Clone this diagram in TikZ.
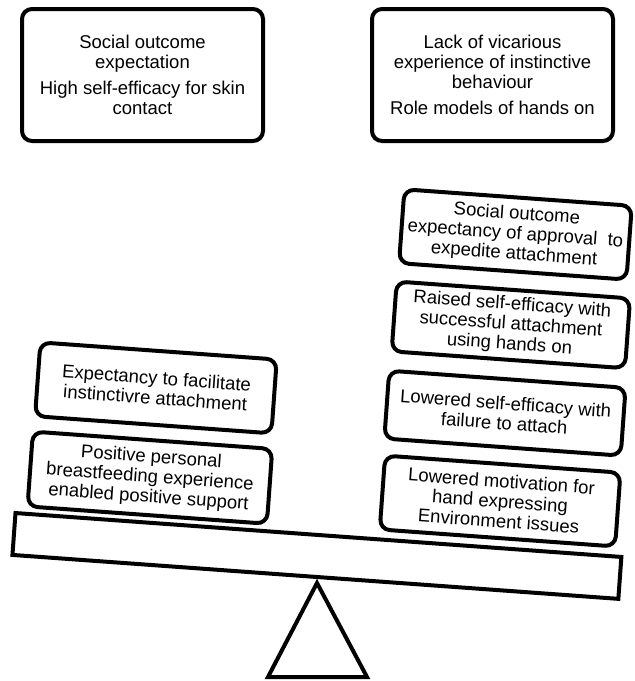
\documentclass[tikz,border=0pt]{standalone}
\usepackage{fontspec}
\setmainfont{Liberation Sans}
\begin{document}
\begin{tikzpicture}[x=1pt,y=-1pt,
  box/.style={draw, line width=4pt, rounded corners=10pt, align=center, inner sep=0pt,
              font=\fontsize{18.5}{20}\selectfont},
  edge/.style={draw, line width=4pt}]
\useasboundingbox (0,0) rectangle (635,681);
% top boxes
\node[box, minimum width=241pt, minimum height=132pt] (tl) at (142.5,75)
  {Social outcome\\expectation\\[6pt]High self-efficacy for skin\\contact};
\node[box, minimum width=241pt, minimum height=132pt] (tr) at (492.5,75)
  {Lack of vicarious\\experience of instinctive\\behaviour\\[6pt]Role models of hands on};
% fulcrum
\draw[edge] (317,583) -- (367,677) -- (268,677) -- cycle;
% tilted beam and stacked boxes
\begin{scope}[shift={(317,579)}, rotate=-4.147]
  \draw[edge] (-305.5,-44) rectangle (302,-2);
  \node[box, transform shape, minimum width=237pt, minimum height=74pt] (l1) at (-174.5,-179)
    {Expectancy to facilitate\\instinctivre attachment};
  \node[box, transform shape, minimum width=240pt, minimum height=75pt] (l2) at (-174,-89)
    {Positive personal\\breastfeeding experience\\enabled positive support};
  \node[box, transform shape, minimum width=228pt, minimum height=74pt] (r1) at (173,-358)
    {Social outcome\\expectancy of approval~ to\\expedite attachment};
  \node[box, transform shape, minimum width=234pt, minimum height=70pt] (r2) at (175,-267.5)
    {Raised self-efficacy with\\successful attachment\\using hands on};
  \node[box, transform shape, minimum width=237pt, minimum height=68pt] (r3) at (175.5,-179)
    {Lowered self-efficacy with\\failure to attach};
  \node[box, transform shape, minimum width=236pt, minimum height=74pt] (r4) at (177,-91)
    {Lowered motivation for\\hand expressing\\Environment issues};
\end{scope}
\end{tikzpicture}
\end{document}
